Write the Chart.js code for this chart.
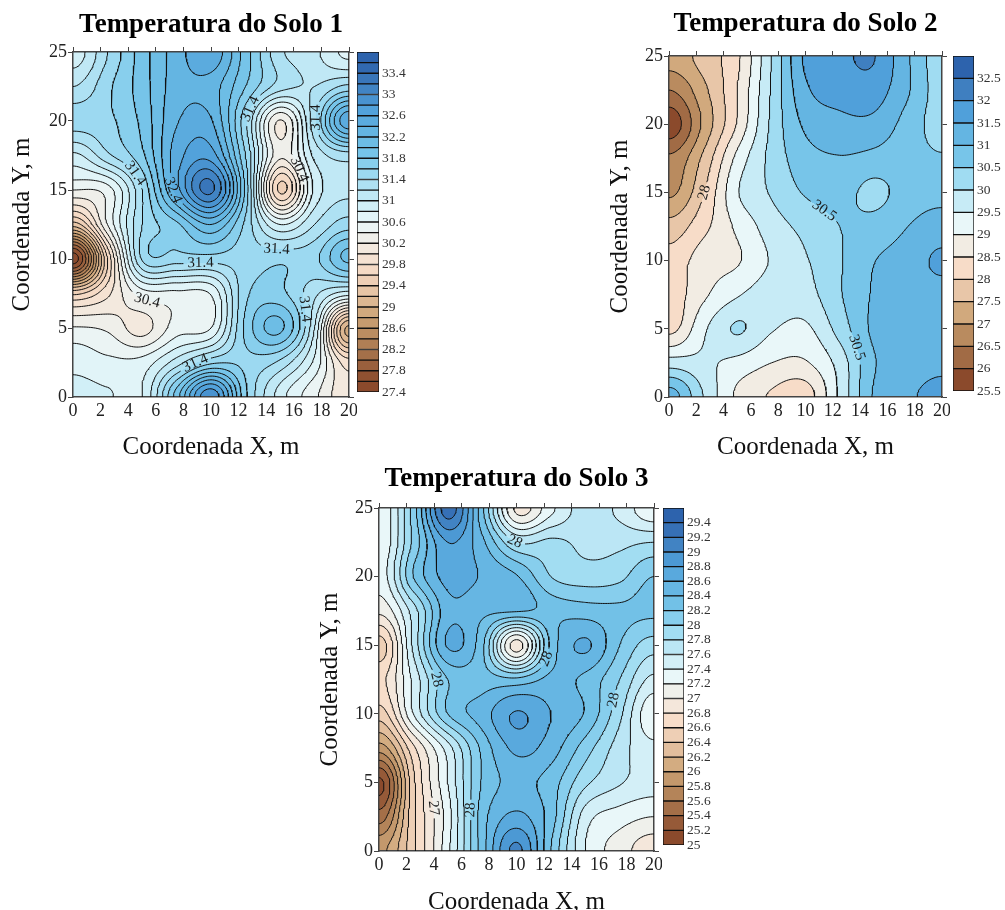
<!DOCTYPE html>
<html>
<head>
<meta charset="utf-8">
<title>Temperatura do Solo</title>
<script src="https://cdn.jsdelivr.net/npm/chart.js@4"></script>
<style>
html, body { margin: 0; padding: 0; background: #fff; overflow: hidden; width: 1005px; height: 910px; }
canvas { position: absolute; }
</style>
</head>
<body>
<canvas id="solo1"></canvas><canvas id="bar1"></canvas>
<canvas id="solo2"></canvas><canvas id="bar2"></canvas>
<canvas id="solo3"></canvas><canvas id="bar3"></canvas>
<script>
// Sampling positions of the temperature grids (m)
const coordX = [0, 2.5, 5, 7.5, 10, 12.5, 15, 17.5, 20];
const coordY = [0, 2.5, 5, 7.5, 10, 12.5, 15, 17.5, 20, 22.5, 25];

// Temperatures, one row per coordY, one column per coordX
const solo1Temp = [
    [30.88, 30.82, 30.80, 31.90, 32.95, 31.65, 30.90, 30.45, 30.05],
    [30.72, 30.65, 30.68, 31.10, 31.55, 31.55, 31.35, 30.75, 29.90],
    [30.42, 30.36, 30.12, 30.50, 30.60, 31.65, 32.05, 31.00, 28.95],
    [29.55, 29.95, 30.50, 30.55, 30.62, 31.55, 31.65, 31.25, 30.90],
    [27.50, 29.60, 31.42, 31.50, 31.50, 31.50, 31.55, 31.55, 32.05],
    [29.30, 30.40, 31.40, 31.75, 32.20, 31.55, 30.80, 31.20, 31.50],
    [30.40, 30.50, 31.40, 32.50, 33.25, 31.75, 29.55, 30.85, 31.15],
    [30.95, 31.35, 31.75, 32.50, 32.70, 31.60, 30.25, 31.05, 31.30],
    [31.50, 31.55, 31.85, 32.38, 32.42, 31.45, 30.18, 31.35, 32.55],
    [31.20, 31.55, 31.90, 32.30, 32.30, 31.80, 31.30, 31.20, 31.45],
    [30.90, 31.40, 31.90, 32.30, 32.55, 31.90, 31.25, 31.05, 30.75]
];
const solo2Temp = [
    [31.20, 30.00, 28.90, 28.45, 28.25, 29.60, 31.05, 31.40, 31.70],
    [29.75, 29.60, 29.35, 29.00, 28.95, 29.70, 30.95, 31.20, 31.35],
    [28.35, 29.40, 30.05, 29.55, 29.40, 30.20, 31.10, 31.25, 31.30],
    [28.25, 28.90, 29.45, 29.75, 29.80, 30.45, 31.05, 31.25, 31.30],
    [28.20, 28.75, 28.95, 29.55, 29.95, 30.45, 30.98, 31.20, 31.60],
    [27.70, 28.35, 29.10, 29.75, 30.15, 30.50, 30.70, 31.00, 31.20],
    [26.90, 27.95, 29.45, 30.05, 30.55, 30.70, 30.35, 30.75, 30.85],
    [26.60, 27.60, 29.15, 30.15, 30.80, 30.97, 30.85, 30.70, 30.55],
    [25.70, 27.10, 28.55, 30.10, 31.10, 31.35, 31.35, 30.80, 30.30],
    [26.50, 27.35, 28.50, 30.05, 31.40, 31.70, 31.75, 31.05, 30.30],
    [27.20, 27.70, 28.40, 30.00, 31.60, 31.88, 32.02, 31.05, 30.25]
];
const solo3Temp = [
    [25.95, 26.55, 27.35, 28.30, 29.05, 28.20, 27.40, 27.10, 26.88],
    [25.50, 26.55, 27.30, 28.30, 28.65, 28.30, 27.50, 27.30, 27.20],
    [25.15, 26.55, 27.40, 28.22, 28.45, 28.30, 27.85, 27.62, 27.50],
    [25.90, 26.75, 27.50, 28.25, 28.65, 28.50, 28.10, 27.70, 27.45],
    [26.50, 27.40, 28.20, 28.50, 28.82, 28.60, 28.38, 27.85, 27.25],
    [26.75, 27.45, 28.20, 28.30, 28.25, 28.45, 28.35, 28.00, 27.55],
    [26.50, 27.65, 28.62, 28.25, 26.90, 28.25, 28.63, 28.20, 27.90],
    [27.05, 27.70, 28.52, 28.45, 28.42, 28.35, 28.30, 28.25, 28.25],
    [27.30, 28.20, 28.68, 28.58, 28.42, 28.00, 27.90, 27.95, 28.20],
    [27.25, 28.05, 28.80, 28.45, 27.80, 27.85, 27.75, 27.75, 27.80],
    [27.25, 28.10, 29.30, 28.25, 26.95, 27.35, 27.70, 27.55, 27.25]
];

// Contour levels (band edges) of each map
const solo1Levels = [27.4, 27.6, 27.8, 28, 28.2, 28.4, 28.6, 28.8, 29, 29.2, 29.4, 29.6, 29.8, 30, 30.2, 30.4, 30.6, 30.8, 31, 31.2, 31.4, 31.6, 31.8, 32, 32.2, 32.4, 32.6, 32.8, 33, 33.2, 33.4, 33.6, 33.8];
const solo2Levels = [25.5, 26, 26.5, 27, 27.5, 28, 28.5, 29, 29.5, 30, 30.5, 31, 31.5, 32, 32.5, 33];
const solo3Levels = [25, 25.2, 25.4, 25.6, 25.8, 26, 26.2, 26.4, 26.6, 26.8, 27, 27.2, 27.4, 27.6, 27.8, 28, 28.2, 28.4, 28.6, 28.8, 29, 29.2, 29.4, 29.6];

// Colour bar tick labels
const solo1BarTicks = [27.4, 27.8, 28.2, 28.6, 29, 29.4, 29.8, 30.2, 30.6, 31, 31.4, 31.8, 32.2, 32.6, 33, 33.4];
const solo2BarTicks = [25.5, 26, 26.5, 27, 27.5, 28, 28.5, 29, 29.5, 30, 30.5, 31, 31.5, 32, 32.5];
const solo3BarTicks = [25, 25.2, 25.4, 25.6, 25.8, 26, 26.2, 26.4, 26.6, 26.8, 27, 27.2, 27.4, 27.6, 27.8, 28, 28.2, 28.4, 28.6, 28.8, 29, 29.2, 29.4];

// Contour labels: where they sit, which line they belong to, what they say
const solo1LabelX = [4.2, 7.4, 9.2, 14.8, 5.2, 8.8, 17, 12.8, 17.8, 16.4];
const solo1LabelY = [16, 15, 10.2, 11.3, 6.3, 2.7, 6.4, 20.9, 20.3, 16.5];
const solo1LabelLevel = [31.4, 32.4, 31.4, 31.4, 30.4, 31.4, 31.4, 31.4, 31.4, 30.4];
const solo1LabelText = ['31.4', '32.4', '31.4', '31.4', '30.4', '31.4', '31.4', '31.4', '31.4', '30.4'];
const solo2LabelX = [2.5, 11.2, 13.5];
const solo2LabelY = [15, 13.5, 3.5];
const solo2LabelLevel = [28, 30.5, 30.5];
const solo2LabelText = ['28', '30.5', '30.5'];
const solo3LabelX = [4, 6.6, 4, 9.8, 12.3, 17.3];
const solo3LabelY = [12.5, 3, 3.1, 22.4, 14, 11];
const solo3LabelLevel = [28, 28, 27, 27.8, 28.2, 28];
const solo3LabelText = ['28', '28', '27', '28', '28', '28'];

// Brown to blue palette, bottom to top
const palette = ['#8b4a2c', '#a16b45', '#b98b5f', '#d1a97d', '#e8c6a8', '#f7dcc8', '#f2ece3', '#e9f7f9', '#c7ebf6', '#a0dcf2', '#77c5e9', '#64b5e2', '#50a0da', '#3f7fc0', '#2d63ad'];

const SERIF = '"Liberation Serif", "Times New Roman", serif';
const FINE = 0.125; // contouring step in metres
const PX_PER_M = 13.75;

function hexToRgb(hex) {
    return [1, 3, 5].map(i => parseInt(hex.substr(i, 2), 16));
}

function bandColors(count) {
    const out = [];
    for (let i = 0; i < count; i++) {
        const t = (i + 0.5) / count * palette.length - 0.5;
        const k = Math.max(0, Math.min(palette.length - 2, Math.floor(t)));
        const f = Math.max(0, Math.min(1, t - k));
        const a = hexToRgb(palette[k]), b = hexToRgb(palette[k + 1]);
        out.push(a.map((v, c) => Math.round(v + (b[c] - v) * f)));
    }
    return out;
}

// Smooth (Catmull-Rom) resampling of a coarse grid, edges mirrored
function resample(grid) {
    const nx = Math.round(20 / FINE) + 1, ny = Math.round(25 / FINE) + 1;
    const rows = grid.length, cols = grid[0].length;
    const at = (r, c) => {
        if (r < 0) r = -r;
        if (r >= rows) r = 2 * (rows - 1) - r;
        if (c < 0) c = -c;
        if (c >= cols) c = 2 * (cols - 1) - c;
        return grid[r][c];
    };
    const cr = (p0, p1, p2, p3, t) => 0.5 * (2 * p1 + (p2 - p0) * t + (2 * p0 - 5 * p1 + 4 * p2 - p3) * t * t + (3 * p1 - p0 - 3 * p2 + p3) * t * t * t);
    const field = [];
    for (let j = 0; j < ny; j++) {
        const gy = j * FINE / 2.5, r = Math.min(rows - 2, Math.floor(gy)), ty = gy - r;
        const row = new Float64Array(nx);
        for (let i = 0; i < nx; i++) {
            const gx = i * FINE / 2.5, c = Math.min(cols - 2, Math.floor(gx)), tx = gx - c;
            const v = [-1, 0, 1, 2].map(dr => cr(at(r + dr, c - 1), at(r + dr, c), at(r + dr, c + 1), at(r + dr, c + 2), tx));
            row[i] = cr(v[0], v[1], v[2], v[3], ty);
        }
        field.push(row);
    }
    return field;
}

// Marching squares, segments chained into polylines
function contourLines(field, level) {
    const ny = field.length, nx = field[0].length;
    const pts = new Map(), links = new Map();
    const edgePoint = (i, j, horizontal) => {
        const key = (j * nx + i) * 2 + (horizontal ? 0 : 1);
        if (!pts.has(key)) {
            const a = field[j][i], b = horizontal ? field[j][i + 1] : field[j + 1][i];
            const t = (level - a) / (b - a);
            pts.set(key, horizontal ? [(i + t) * FINE, j * FINE] : [i * FINE, (j + t) * FINE]);
        }
        return key;
    };
    const link = (a, b) => {
        if (!links.has(a)) links.set(a, []);
        if (!links.has(b)) links.set(b, []);
        links.get(a).push(b);
        links.get(b).push(a);
    };
    const table = { 1: [[3, 0]], 2: [[0, 1]], 3: [[3, 1]], 4: [[1, 2]], 5: [[3, 0], [1, 2]], 6: [[0, 2]], 7: [[3, 2]], 8: [[2, 3]], 9: [[0, 2]], 10: [[0, 1], [2, 3]], 11: [[1, 2]], 12: [[1, 3]], 13: [[0, 1]], 14: [[3, 0]] };
    for (let j = 0; j < ny - 1; j++) {
        for (let i = 0; i < nx - 1; i++) {
            const c = (field[j][i] >= level ? 1 : 0) | (field[j][i + 1] >= level ? 2 : 0) | (field[j + 1][i + 1] >= level ? 4 : 0) | (field[j + 1][i] >= level ? 8 : 0);
            if (c === 0 || c === 15) continue;
            const e = k => k === 0 ? edgePoint(i, j, true) : k === 1 ? edgePoint(i + 1, j, false) : k === 2 ? edgePoint(i, j + 1, true) : edgePoint(i, j, false);
            table[c].forEach(s => link(e(s[0]), e(s[1])));
        }
    }
    const seen = new Set(), chains = [];
    const walk = start => {
        const chain = [];
        let cur = start, last = start;
        while (cur !== undefined) {
            seen.add(cur);
            chain.push(pts.get(cur));
            last = cur;
            cur = links.get(cur).find(n => !seen.has(n));
        }
        // closed loop: back at a neighbour of the start
        if (chain.length > 2 && links.get(last).includes(start)) chain.push(pts.get(start));
        chains.push(chain);
    };
    links.forEach((v, k) => { if (v.length === 1 && !seen.has(k)) walk(k); });
    links.forEach((v, k) => { if (!seen.has(k)) walk(k); });
    return chains;
}

// Put the labels on their lines and cut the line where the text goes
function placeLabels(chainsByLevel, levels, lx, ly, lLevel, lText) {
    const placed = [];
    lx.forEach((x0, n) => {
        const idx = levels.findIndex(l => Math.abs(l - lLevel[n]) < 1e-6);
        const chains = chainsByLevel[idx] || [];
        let best = null, bestD = Infinity;
        chains.forEach(ch => ch.forEach((p, i) => {
            const d = Math.hypot(p[0] - x0, p[1] - ly[n]);
            if (d < bestD) { bestD = d; best = { ch, i }; }
        }));
        if (!best || bestD > 3) {
            placed.push({ x: x0, y: ly[n], angle: 0, text: lText[n] });
            return;
        }
        const a = best.ch[Math.max(0, best.i - 4)], b = best.ch[Math.min(best.ch.length - 1, best.i + 4)], p = best.ch[best.i];
        let angle = Math.atan2(-(b[1] - a[1]), b[0] - a[0]);
        if (angle > Math.PI / 2) angle -= Math.PI;
        if (angle <= -Math.PI / 2) angle += Math.PI;
        const gap = (lText[n].length * 3 + 4) / PX_PER_M;
        best.ch.forEach(q => { if (Math.hypot(q[0] - p[0], q[1] - p[1]) < gap) q.cut = true; });
        placed.push({ x: p[0], y: p[1], angle, text: lText[n] });
    });
    return placed;
}

function contourDataset(chains) {
    const data = [];
    chains.forEach(ch => {
        ch.forEach(p => data.push(p.cut ? { x: NaN, y: NaN } : { x: p[0], y: p[1] }));
        data.push({ x: NaN, y: NaN });
    });
    return { data, showLine: true, borderColor: '#111', borderWidth: 1, pointRadius: 0, spanGaps: false, tension: 0 };
}

// Paints the colour bands behind the contour lines, then the labels on top
const bandsPlugin = {
    id: 'bands',
    beforeDraw(chart, args, opts) {
        const { left, top, right, bottom } = chart.chartArea;
        const w = Math.round(right - left), h = Math.round(bottom - top);
        const off = document.createElement('canvas');
        off.width = w; off.height = h;
        const octx = off.getContext('2d');
        const img = octx.createImageData(w, h);
        const xs = chart.scales.x, ys = chart.scales.y;
        const { field, levels, colors } = opts;
        const ny = field.length, nx = field[0].length;
        for (let py = 0; py < h; py++) {
            const gy = Math.max(0, Math.min(ny - 1.001, ys.getValueForPixel(top + py + 0.5) / FINE));
            const j = Math.floor(gy), fy = gy - j;
            for (let px = 0; px < w; px++) {
                const gx = Math.max(0, Math.min(nx - 1.001, xs.getValueForPixel(left + px + 0.5) / FINE));
                const i = Math.floor(gx), fx = gx - i;
                const z = (field[j][i] * (1 - fx) + field[j][i + 1] * fx) * (1 - fy) + (field[j + 1][i] * (1 - fx) + field[j + 1][i + 1] * fx) * fy;
                let b = 0;
                while (b < colors.length - 1 && z >= levels[b + 1]) b++;
                const o = (py * w + px) * 4;
                img.data[o] = colors[b][0]; img.data[o + 1] = colors[b][1]; img.data[o + 2] = colors[b][2]; img.data[o + 3] = 255;
            }
        }
        octx.putImageData(img, 0, 0);
        chart.ctx.drawImage(off, left, top);
    },
    afterDatasetsDraw(chart, args, opts) {
        const ctx = chart.ctx;
        ctx.save();
        ctx.font = '15px ' + SERIF;
        ctx.fillStyle = '#1a1a1a';
        ctx.textAlign = 'center';
        ctx.textBaseline = 'middle';
        opts.labels.forEach(l => {
            ctx.save();
            ctx.translate(chart.scales.x.getPixelForValue(l.x), chart.scales.y.getPixelForValue(l.y));
            ctx.rotate(l.angle);
            ctx.fillText(l.text, 0, 0);
            ctx.restore();
        });
        ctx.restore();
    }
};

const axisLine = { display: true, color: '#444', width: 1.5 };

// tick labels must not push the plot area in
function noPadding(s) {
    s.paddingLeft = s.paddingRight = s.paddingTop = s.paddingBottom = 0;
}

function drawMap(id, cfg) {
    const canvas = document.getElementById(id);
    canvas.width = cfg.width; canvas.height = cfg.height;
    canvas.style.left = cfg.left + 'px';
    canvas.style.top = cfg.top + 'px';

    const field = resample(cfg.temp);
    const inner = cfg.levels.slice(1, -1);
    const chainsByLevel = cfg.levels.map(l => inner.includes(l) ? contourLines(field, l) : []);
    const labels = placeLabels(chainsByLevel, cfg.levels, cfg.labelX, cfg.labelY, cfg.labelLevel, cfg.labelText);
    const colors = bandColors(cfg.levels.length - 1);
    const titleH = 27 * 1.2 + cfg.titlePad;

    return new Chart(canvas, {
        type: 'scatter',
        data: { datasets: chainsByLevel.filter(c => c.length).map(contourDataset) },
        options: {
            responsive: false,
            animation: false,
            events: [],
            layout: { autoPadding: false },
            plugins: {
                legend: { display: false },
                tooltip: { enabled: false },
                title: {
                    display: true,
                    text: cfg.title,
                    fullSize: false,
                    color: '#000',
                    font: { family: SERIF, size: 27, weight: 'bold', lineHeight: 1.2 },
                    padding: { top: cfg.titlePad, bottom: 0 }
                },
                bands: { field, levels: cfg.levels, colors, labels }
            },
            scales: {
                x: {
                    type: 'linear', position: 'bottom', min: 0, max: 20,
                    afterFit: s => { s.height = cfg.height - cfg.area.bottom; noPadding(s); },
                    border: axisLine,
                    grid: { drawOnChartArea: false, drawTicks: false },
                    ticks: { stepSize: 2, maxRotation: 0, autoSkip: false, padding: 3, color: '#222', font: { family: SERIF, size: 18 } },
                    title: { display: true, text: 'Coordenada X, m', color: '#111', padding: 0, font: { family: SERIF, size: 25, lineHeight: 1.2 } }
                },
                y: {
                    type: 'linear', position: 'left', min: 0, max: 25,
                    afterFit: s => { s.width = cfg.area.left; noPadding(s); },
                    border: axisLine,
                    grid: { drawOnChartArea: false, tickLength: 5, color: '#444' },
                    ticks: { stepSize: 5, autoSkip: false, padding: 1, color: '#222', font: { family: SERIF, size: 18 } },
                    title: { display: true, text: 'Coordenada Y, m', color: '#111', padding: 0, font: { family: SERIF, size: 25, lineHeight: 1.2 } }
                },
                x2: {
                    type: 'linear', axis: 'x', position: 'top', min: 0, max: 20,
                    afterFit: s => { s.height = cfg.area.top - titleH; noPadding(s); },
                    border: axisLine,
                    grid: { drawOnChartArea: false, tickLength: 5, color: '#444' },
                    ticks: { display: false, stepSize: 2, autoSkip: false }
                },
                y2: {
                    type: 'linear', axis: 'y', position: 'right', min: 0, max: 25,
                    afterFit: s => { s.width = cfg.width - cfg.area.right; noPadding(s); },
                    border: axisLine,
                    grid: { drawOnChartArea: false, tickLength: 5, color: '#444' },
                    ticks: { display: false, stepSize: 5, autoSkip: false }
                }
            }
        },
        plugins: [bandsPlugin]
    });
}

function drawBar(id, cfg) {
    const canvas = document.getElementById(id);
    const pad = 8;
    canvas.width = cfg.barWidth + 50; canvas.height = cfg.barHeight + pad * 2;
    canvas.style.left = cfg.left + 'px';
    canvas.style.top = (cfg.top - pad) + 'px';
    const colors = bandColors(cfg.levels.length - 1);
    return new Chart(canvas, {
        type: 'bar',
        data: {
            labels: [''],
            datasets: cfg.levels.slice(0, -1).map((lo, i) => ({
                data: [[lo, cfg.levels[i + 1]]],
                backgroundColor: 'rgb(' + colors[i].join(',') + ')',
                borderColor: '#111',
                borderWidth: 1,
                borderSkipped: false,
                barPercentage: 1,
                categoryPercentage: 1,
                grouped: false
            }))
        },
        options: {
            responsive: false,
            animation: false,
            events: [],
            layout: { autoPadding: false, padding: { top: pad, bottom: pad } },
            plugins: { legend: { display: false }, tooltip: { enabled: false } },
            scales: {
                x: { display: false },
                y: {
                    position: 'right',
                    min: cfg.levels[0],
                    max: cfg.levels[cfg.levels.length - 1],
                    afterFit: s => { s.width = 50; noPadding(s); },
                    afterBuildTicks: s => { s.ticks = cfg.ticks.map(v => ({ value: v })); },
                    border: { display: false },
                    grid: { display: false, drawTicks: false },
                    ticks: { autoSkip: false, padding: 3, color: '#333', font: { family: SERIF, size: 13.5 }, callback: v => String(v) }
                }
            }
        }
    });
}

drawMap('solo1', {
    title: 'Temperatura do Solo 1', temp: solo1Temp, levels: solo1Levels,
    labelX: solo1LabelX, labelY: solo1LabelY, labelLevel: solo1LabelLevel, labelText: solo1LabelText,
    left: 7, top: 0, width: 350, height: 462, titlePad: 9,
    area: { left: 66, right: 342, top: 52, bottom: 397 }
});
drawBar('bar1', { levels: solo1Levels, ticks: solo1BarTicks, left: 357, top: 52, barWidth: 22, barHeight: 340 });

drawMap('solo2', {
    title: 'Temperatura do Solo 2', temp: solo2Temp, levels: solo2Levels,
    labelX: solo2LabelX, labelY: solo2LabelY, labelLevel: solo2LabelLevel, labelText: solo2LabelText,
    left: 605, top: 0, width: 345, height: 462, titlePad: 8,
    area: { left: 64, right: 337, top: 56, bottom: 397 }
});
drawBar('bar2', { levels: solo2Levels, ticks: solo2BarTicks, left: 953, top: 56, barWidth: 21, barHeight: 335 });

drawMap('solo3', {
    title: 'Temperatura do Solo 3', temp: solo3Temp, levels: solo3Levels,
    labelX: solo3LabelX, labelY: solo3LabelY, labelLevel: solo3LabelLevel, labelText: solo3LabelText,
    left: 315, top: 460, width: 347, height: 457, titlePad: 3,
    area: { left: 64, right: 339, top: 48, bottom: 391 }
});
drawBar('bar3', { levels: solo3Levels, ticks: solo3BarTicks, left: 663, top: 508, barWidth: 21, barHeight: 337 });
</script>
</body>
</html>
